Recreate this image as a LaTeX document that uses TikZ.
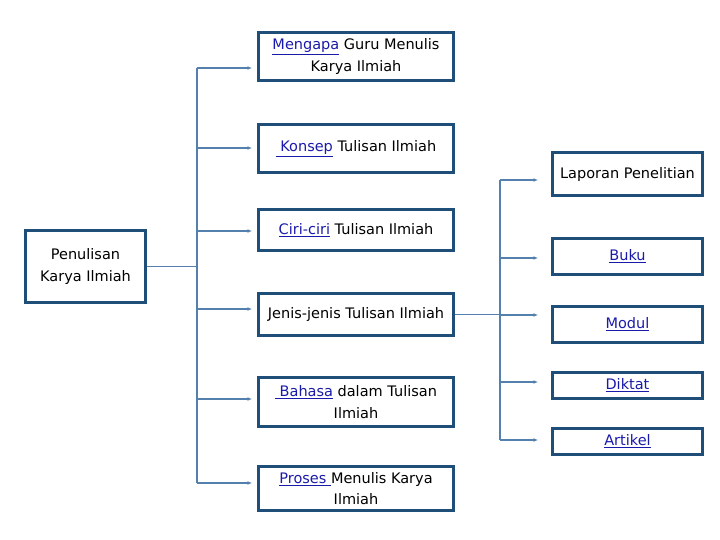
\documentclass[tikz,border=0pt]{standalone}
\usepackage{fontspec}
\setmainfont{DejaVu Sans}
\usetikzlibrary{arrows.meta}
\definecolor{boxc}{HTML}{1F4E79}
\definecolor{linec}{HTML}{5380AD}
\definecolor{linkc}{HTML}{1A1AAA}
\newcommand{\lnk}[1]{{\color{linkc}\underline{#1}}}
\tikzset{
  box/.style={draw=boxc, line width=3pt, rectangle, align=center, inner sep=0pt,
    font=\fontsize{14.5}{21.5}\selectfont, text=black},
  conn/.style={draw=linec, line width=1.4pt},
  arr/.style={conn, -{Latex[length=4.5pt,width=4pt]}},
}
\begin{document}
\begin{tikzpicture}[x=1pt,y=-1pt]
\useasboundingbox (0,0) rectangle (720,540);
% left column
\node[box, minimum width=120pt, minimum height=72pt] (p) at (85.5,266.5) {Penulisan\\Karya Ilmiah};
\node[box, minimum width=195pt, minimum height=48pt] (m) at (356,56.5) {\lnk{Mengapa} Guru Menulis\\Karya Ilmiah};
\node[box, minimum width=195pt, minimum height=48pt] (k) at (356,148.5) {\lnk{\ Konsep} Tulisan Ilmiah};
\node[box, minimum width=195pt, minimum height=41pt] (c) at (356,230) {\lnk{Ciri-ciri} Tulisan Ilmiah};
\node[box, minimum width=195pt, minimum height=42pt] (j) at (356,314.5) {Jenis-jenis Tulisan Ilmiah};
\node[box, minimum width=195pt, minimum height=49pt] (b) at (356,402) {\lnk{\ Bahasa} dalam Tulisan\\Ilmiah};
\node[box, minimum width=195pt, minimum height=44pt] (pr) at (356,488.5) {\lnk{Proses\ }Menulis Karya\\Ilmiah};
% right column
\node[box, minimum width=150pt, minimum height=43pt] (lp) at (627.5,174) {Laporan Penelitian};
\node[box, minimum width=150pt, minimum height=36pt] (bk) at (627.5,256.5) {\lnk{Buku}};
\node[box, minimum width=150pt, minimum height=36pt] (md) at (627.5,324.5) {\lnk{Modul}};
\node[box, minimum width=150pt, minimum height=26pt] (dk) at (627.5,385.5) {\lnk{Diktat}};
\node[box, minimum width=150pt, minimum height=26pt] (ar) at (627.5,441.5) {\lnk{Artikel}};
% left trunk
\coordinate (t1) at (197,68);
\coordinate (t2) at (197,148);
\coordinate (t3) at (197,231);
\coordinate (t4) at (197,309);
\coordinate (t5) at (197,399);
\coordinate (t6) at (197,483);
\draw[conn] (t1) -- (t6);
\draw[conn] (p.east) -- (p.east -| t1);
\draw[arr, shorten >=5pt] (t1) -- (t1 -| m.west);
\draw[arr, shorten >=5pt] (t2) -- (t2 -| k.west);
\draw[arr, shorten >=5pt] (t3) -- (t3 -| c.west);
\draw[arr, shorten >=5pt] (t4) -- (t4 -| j.west);
\draw[arr, shorten >=5pt] (t5) -- (t5 -| b.west);
\draw[arr, shorten >=5pt] (t6) -- (t6 -| pr.west);
% right trunk
\coordinate (r1) at (500,180);
\coordinate (r2) at (500,258);
\coordinate (r3) at (500,315);
\coordinate (r4) at (500,382);
\coordinate (r5) at (500,440);
\draw[conn] (r1) -- (r5);
\draw[conn] (j.east) -- (j.east -| r3);
\draw[arr, shorten >=13pt] (r1) -- (r1 -| lp.west);
\draw[arr, shorten >=13pt] (r2) -- (r2 -| bk.west);
\draw[arr, shorten >=13pt] (r3) -- (r3 -| md.west);
\draw[arr, shorten >=13pt] (r4) -- (r4 -| dk.west);
\draw[arr, shorten >=13pt] (r5) -- (r5 -| ar.west);
\end{tikzpicture}
\end{document}
